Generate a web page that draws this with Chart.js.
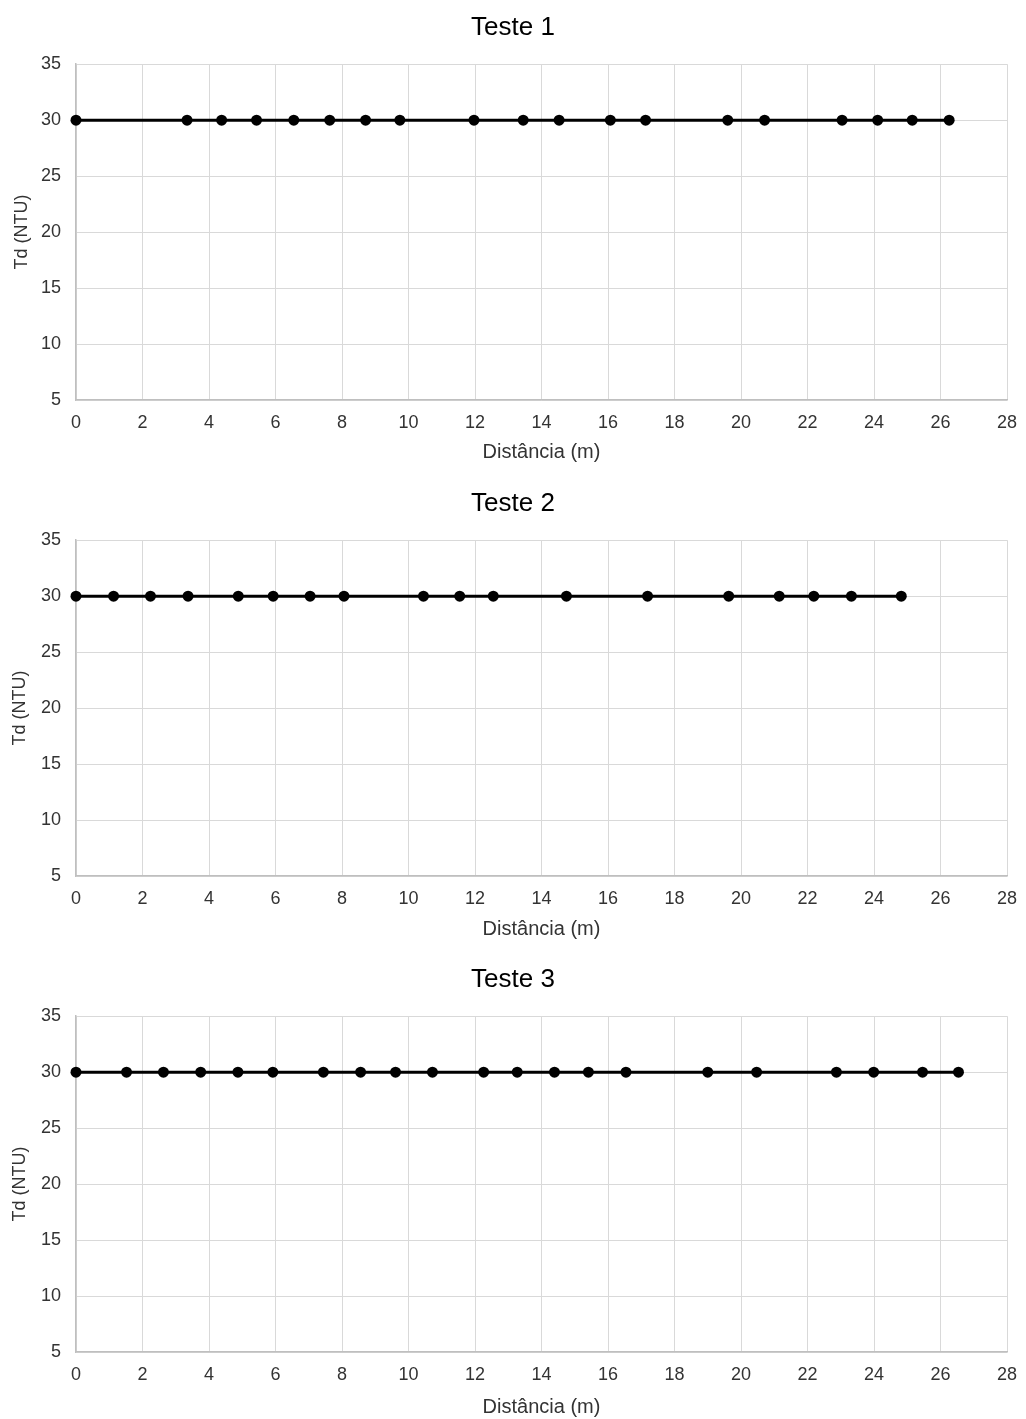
<!DOCTYPE html>
<html>
<head>
<meta charset="utf-8">
<script src="https://cdn.jsdelivr.net/npm/chart.js@4/dist/chart.umd.min.js"></script>
<style>
  html, body { margin: 0; padding: 0; background: #fff; overflow: hidden; }
  .wrap { position: relative; width: 1026px; }
  canvas { display: block; }
</style>
</head>
<body>
<div class="wrap" style="height:476px"><canvas id="c1"></canvas></div>
<div class="wrap" style="height:476px"><canvas id="c2"></canvas></div>
<div class="wrap" style="height:467px"><canvas id="c3"></canvas></div>
<script>
// ---- Data ----
const titles = ["Teste 1", "Teste 2", "Teste 3"];
const xTitle = "Distância (m)";
const yTitle = "Td (NTU)";
const xTicks = [0, 2, 4, 6, 8, 10, 12, 14, 16, 18, 20, 22, 24, 26, 28];
const yTicks = [5, 10, 15, 20, 25, 30, 35];

const dist1 = [0, 3.34, 4.38, 5.43, 6.55, 7.63, 8.71, 9.74, 11.97, 13.45, 14.53, 16.07, 17.13, 19.6, 20.71, 23.04, 24.11, 25.15, 26.26];
const td1   = [30, 30, 30, 30, 30, 30, 30, 30, 30, 30, 30, 30, 30, 30, 30, 30, 30, 30, 30];

const dist2 = [0, 1.13, 2.24, 3.37, 4.88, 5.93, 7.04, 8.06, 10.45, 11.54, 12.55, 14.75, 17.19, 19.63, 21.15, 22.19, 23.32, 24.82];
const td2   = [30, 30, 30, 30, 30, 30, 30, 30, 30, 30, 30, 30, 30, 30, 30, 30, 30, 30];

const dist3 = [0, 1.52, 2.63, 3.75, 4.87, 5.92, 7.44, 8.56, 9.61, 10.72, 12.26, 13.27, 14.39, 15.41, 16.54, 19.0, 20.47, 22.87, 23.99, 25.46, 26.54];
const td3   = [30, 30, 30, 30, 30, 30, 30, 30, 30, 30, 30, 30, 30, 30, 30, 30, 30, 30, 30, 30, 30];

const FONT = "'Liberation Sans', Arial, sans-serif";
const PAD_L = 19, PAD_R = 19;

function makeChart(id, title, xs, ys, canvasH, xTitleBottomPad, yTitleX) {
  const points = xs.map((x, i) => ({ x: x, y: ys[i] }));
  return new Chart(document.getElementById(id), {
    type: 'scatter',
    data: {
      datasets: [{
        data: points,
        showLine: true,
        borderColor: '#000',
        borderWidth: 3,
        backgroundColor: '#000',
        pointBackgroundColor: '#000',
        pointBorderColor: '#000',
        pointRadius: 5.5,
        pointBorderWidth: 0,
        clip: false
      }]
    },
    options: {
      responsive: true,
      maintainAspectRatio: false,
      animation: false,
      events: [],
      layout: { padding: { left: PAD_L, right: PAD_R, top: 0, bottom: 0 } },
      plugins: {
        legend: { display: false },
        tooltip: { enabled: false },
        title: {
          display: true,
          text: title,
          color: '#000',
          font: { family: FONT, size: 26, weight: 'normal' },
          padding: { top: 12, bottom: 21 }
        }
      },
      scales: {
        x: {
          type: 'linear',
          min: xTicks[0],
          max: xTicks[xTicks.length - 1],
          afterBuildTicks: (s) => { s.ticks = xTicks.map(v => ({ value: v })); },
          afterFit: (s) => { s.height = canvasH - 400; s.paddingRight = 0; s.paddingLeft = 0; },
          ticks: {
            color: '#333',
            padding: 12,
            font: { family: FONT, size: 18 },
            maxRotation: 0,
            autoSkip: false
          },
          grid: { color: '#d9d9d9', lineWidth: 1, drawTicks: false },
          border: { display: true, color: '#bfbfbf', width: 1.5 },
          title: {
            display: true,
            text: xTitle,
            color: '#333',
            font: { family: FONT, size: 20 },
            padding: { top: 0, bottom: xTitleBottomPad }
          }
        },
        y: {
          type: 'linear',
          min: yTicks[0],
          max: yTicks[yTicks.length - 1],
          afterBuildTicks: (s) => { s.ticks = yTicks.map(v => ({ value: v })); },
          afterFit: (s) => { s.width = 76 - PAD_L; },
          ticks: {
            color: '#333',
            padding: 15,
            font: { family: FONT, size: 18 },
            autoSkip: false
          },
          grid: { color: '#d9d9d9', lineWidth: 1, drawTicks: false },
          border: { display: true, color: '#bfbfbf', width: 1.5 },
          title: {
            display: true,
            text: yTitle,
            color: '#333',
            font: { family: FONT, size: 18 },
            padding: { top: yTitleX - PAD_L - 10.8, bottom: 0 }
          }
        }
      }
    }
  });
}

makeChart('c1', titles[0], dist1, td1, 476, 12, 22);
makeChart('c2', titles[1], dist2, td2, 476, 11, 20);
makeChart('c3', titles[2], dist3, td3, 467, 0, 20);
</script>
</body>
</html>
